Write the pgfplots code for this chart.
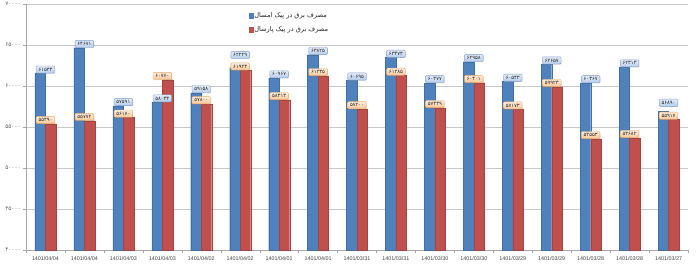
\documentclass[border=0pt]{standalone}
\usepackage{fontspec}
\setmainfont{Liberation Sans}
\newfontfamily\fa[Script=Arabic]{DejaVu Sans}
\usepackage{pgfplots}
\usepackage{pgfplotstable}
\pgfplotsset{compat=1.18}
\usetikzlibrary{shadows}
\TeXXeTstate=1
\definecolor{barblue}{HTML}{4F81BD}
\definecolor{barred}{HTML}{C0504D}
\definecolor{bbtop}{HTML}{E3ECF8}
\definecolor{bbbot}{HTML}{B7CCE9}
\definecolor{bbdraw}{HTML}{7E9FD0}
\definecolor{obtop}{HTML}{FEEEDF}
\definecolor{obbot}{HTML}{F9C594}
\definecolor{obdraw}{HTML}{EFA861}
\definecolor{gridgray}{HTML}{C8C8C8}
\definecolor{axisgray}{HTML}{A6A6A6}

% Latin digits -> Persian digits
\def\fadigit#1{\ifcase#1 ۰\or ۱\or ۲\or ۳\or ۴\or ۵\or ۶\or ۷\or ۸\or ۹\fi}
\def\fanumA#1{\ifx#1\relax\else\fadigit#1\expandafter\fanumA\fi}
\def\fanum#1{\fanumA#1\relax}
\def\fameta{\expandafter\fanum\expandafter{\pgfplotspointmeta}}

\pgfplotstableread{
x y dy
0 61543 0
1 64671 0
2 57591 0
3 58033 0
4 59158 0
5 62229 9
6 60967 0
7 63825 0
8 60695 0
9 63473 0
10 60377 0
11 62958 0
12 60543 0
13 62657 0
14 60367 0
15 62313 0
16 56890 5
}\thisyear

\pgfplotstableread{
x y dy
0 55390 0
1 55772 0
2 56170 0
3 60770 0
4 57800 0
5 61923 0
6 58313 0
7 61235 0
8 57200 0
9 61285 0
10 57339 0
11 60401 0
12 57173 0
13 59923 0
14 53553 0
15 53682 0
16 55917 0
}\lastyear

\begin{document}
\begin{tikzpicture}
\begin{axis}[
  name=ax,
  scale only axis,
  width=662bp, height=246bp,
  xmin=-0.5, xmax=16.5,
  ymin=40000, ymax=70000,
  axis x line*=bottom, axis y line*=left,
  axis line style={axisgray},
  ymajorgrids, grid style={gridgray, line width=0.5pt},
  ytick={40000,45000,50000,55000,60000,65000,70000},
  yticklabels={\fanum{40000},\fanum{45000},\fanum{50000},\fanum{55000},\fanum{60000},\fanum{65000},\fanum{70000}},
  yticklabel style={font=\fa\fontsize{5.8}{6}\selectfont, text=black!60, inner sep=0.5bp,
    text height=3.4bp, text depth=0bp, xshift=-1.5bp},
  xtick={0,...,16},
  xticklabels={1401/04/04,1401/04/04,1401/04/03,1401/04/03,1401/04/02,1401/04/02,1401/04/01,1401/04/01,1401/03/31,1401/03/31,1401/03/30,1401/03/30,1401/03/29,1401/03/29,1401/03/28,1401/03/28,1401/03/27},
  xticklabel style={font=\fontsize{5.4}{6}\selectfont, text=black!75},
  minor xtick={-0.5,0.5,...,16.5},
  tick align=outside,
  major tick length=3bp, minor tick length=3bp,
  major x tick style={draw=none},
  minor x tick style={draw=axisgray},
  major y tick style={draw=axisgray},
  legend style={at={(rel axis cs:0.336,0.972)}, anchor=north west, draw=none, fill=none,
    font=\fa\fontsize{6.6}{7}\selectfont, text=black!85, row sep=5bp, inner sep=0pt,
    nodes={inner sep=1.2bp}},
  legend cell align=left,
  clip=false,
]
\addplot[ybar, bar width=10.5bp, bar shift=-5.25bp, fill=barblue, draw=barblue!85!black, line width=0.2pt,
  legend image code/.code={\fill[barblue] (0bp,-2.2bp) rectangle (4.4bp,2.2bp);}]
  table[x=x,y=y]{\thisyear};
\addlegendentry{\beginR مصرف برق در پیک امسال\endR}
\addplot[ybar, bar width=10.5bp, bar shift=5.25bp, fill=barred, draw=barred!85!black, line width=0.2pt,
  legend image code/.code={\fill[barred] (0bp,-2.2bp) rectangle (4.4bp,2.2bp);}]
  table[x=x,y=y]{\lastyear};
\addlegendentry{\beginR مصرف برق در پیک پارسال\endR}

\addplot[ybar, bar width=10.5bp, bar shift=-5.25bp, draw=none, fill=none, forget plot,
  point meta=explicit symbolic,
  visualization depends on={\thisrow{dy}\as\dy},
  nodes near coords={\fameta},
  every node near coord/.append style={yshift=\dy bp, anchor=south,
    font=\fa\fontsize{5.2}{5.5}\selectfont, text=black!85,
    draw=bbdraw, line width=0.4pt, top color=bbtop, bottom color=bbbot,
    rounded corners=1bp, inner xsep=2.3bp, inner ysep=1.9bp,
    drop shadow={opacity=0.25, shadow xshift=0.6bp, shadow yshift=-0.6bp}}]
  table[x=x,y=y,meta=y]{\thisyear};
\addplot[ybar, bar width=10.5bp, bar shift=5.25bp, draw=none, fill=none, forget plot,
  point meta=explicit symbolic,
  visualization depends on={\thisrow{dy}\as\dy},
  nodes near coords={\fameta},
  every node near coord/.append style={yshift=\dy bp, anchor=south,
    font=\fa\fontsize{5.2}{5.5}\selectfont, text=black!85,
    draw=obdraw, line width=0.4pt, top color=obtop, bottom color=obbot,
    rounded corners=1bp, inner xsep=2.3bp, inner ysep=1.9bp,
    drop shadow={opacity=0.25, shadow xshift=0.6bp, shadow yshift=-0.6bp}}]
  table[x=x,y=y,meta=y]{\lastyear};
\end{axis}
\pgfresetboundingbox
\path[use as bounding box] ([shift={(-26bp,-14bp)}]ax.south west) rectangle ([shift={(12bp,4bp)}]ax.north east);
\end{tikzpicture}
\end{document}
